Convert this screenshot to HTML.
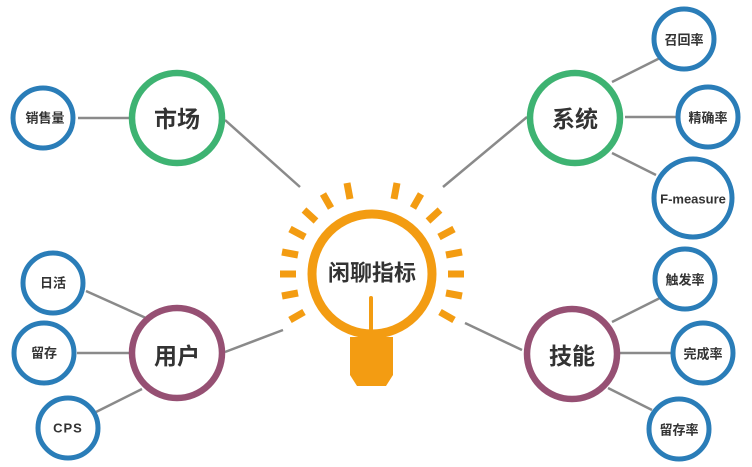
<!DOCTYPE html>
<html><head><meta charset="utf-8"><style>
html,body{margin:0;padding:0;background:#fff;}
svg{display:block;}
text{font-family:"Liberation Sans","Noto Sans CJK SC",sans-serif;font-weight:bold;fill:#333;text-anchor:middle;dominant-baseline:central;}
</style></head><body>
<svg width="752" height="467" viewBox="0 0 752 467" xmlns="http://www.w3.org/2000/svg">
<g stroke="#8a8a8a" stroke-width="2.5" fill="none">
<line x1="225" y1="120" x2="300" y2="187"/>
<line x1="527" y1="117" x2="443" y2="187"/>
<line x1="225" y1="352" x2="283" y2="330"/>
<line x1="522" y1="350" x2="465" y2="323"/>
<line x1="78" y1="118" x2="130" y2="118"/>
<line x1="612" y1="82" x2="660" y2="58"/>
<line x1="625" y1="117" x2="677" y2="117"/>
<line x1="612" y1="153" x2="656" y2="175"/>
<line x1="86" y1="291" x2="146" y2="318"/>
<line x1="77" y1="353" x2="130" y2="353"/>
<line x1="96" y1="412" x2="142" y2="389"/>
<line x1="612" y1="322" x2="660" y2="298"/>
<line x1="620" y1="353" x2="672" y2="353"/>
<line x1="608" y1="388" x2="652" y2="410"/>
</g>
<g stroke="#f39c12" stroke-width="7">
<line x1="304" y1="312" x2="290" y2="320"/>
<line x1="298" y1="293" x2="282" y2="296"/>
<line x1="296" y1="274" x2="280" y2="274"/>
<line x1="298" y1="255" x2="282" y2="252"/>
<line x1="305" y1="237" x2="290" y2="229"/>
<line x1="316" y1="221" x2="304" y2="210"/>
<line x1="331" y1="208" x2="323" y2="194"/>
<line x1="350" y1="199" x2="347" y2="183"/>
<line x1="394" y1="199" x2="397" y2="183"/>
<line x1="413" y1="208" x2="421" y2="194"/>
<line x1="428" y1="221" x2="440" y2="210"/>
<line x1="439" y1="237" x2="454" y2="229"/>
<line x1="446" y1="255" x2="462" y2="252"/>
<line x1="448" y1="274" x2="464" y2="274"/>
<line x1="446" y1="293" x2="462" y2="296"/>
<line x1="440" y1="312" x2="454" y2="320"/>
</g>
<circle cx="372" cy="274" r="60" fill="#fff" stroke="#f39c12" stroke-width="9"/>
<line x1="371" y1="298" x2="371" y2="340" stroke="#f39c12" stroke-width="4" stroke-linecap="round"/>
<path d="M350 337 H393 V375 L386 386 H357 L350 375 Z" fill="#f39c12"/>
<text x="372" y="273" font-size="22">闲聊指标</text>
<g fill="#fff" stroke-width="6.5">
<circle cx="177" cy="118" r="45" stroke="#3eb372"/>
<circle cx="575" cy="118" r="45" stroke="#3eb372"/>
<circle cx="177" cy="353" r="45" stroke="#965073"/>
<circle cx="572" cy="354" r="45" stroke="#965073"/>
</g>
<text x="177" y="119" font-size="23">市场</text>
<text x="575" y="119" font-size="23">系统</text>
<text x="177" y="356" font-size="23">用户</text>
<text x="572" y="356" font-size="23">技能</text>
<g fill="#fff" stroke="#2a7db8" stroke-width="5">
<circle cx="43" cy="118" r="30"/>
<circle cx="53" cy="283" r="30"/>
<circle cx="44" cy="353" r="30"/>
<circle cx="68" cy="428" r="30"/>
<circle cx="684" cy="39" r="30"/>
<circle cx="708" cy="117" r="30"/>
<circle cx="693" cy="198" r="39"/>
<circle cx="685" cy="279" r="30"/>
<circle cx="703" cy="353" r="30"/>
<circle cx="679" cy="429" r="30"/>
</g>
<g font-size="13">
<text x="45" y="118">销售量</text>
<text x="53" y="283">日活</text>
<text x="44" y="353">留存</text>
<text x="68" y="428" letter-spacing="1">CPS</text>
<text x="684" y="40">召回率</text>
<text x="708" y="118">精确率</text>
<text x="693" y="199">F-measure</text>
<text x="685" y="280">触发率</text>
<text x="703" y="354">完成率</text>
<text x="679" y="430">留存率</text>
</g>
</svg>
</body></html>
